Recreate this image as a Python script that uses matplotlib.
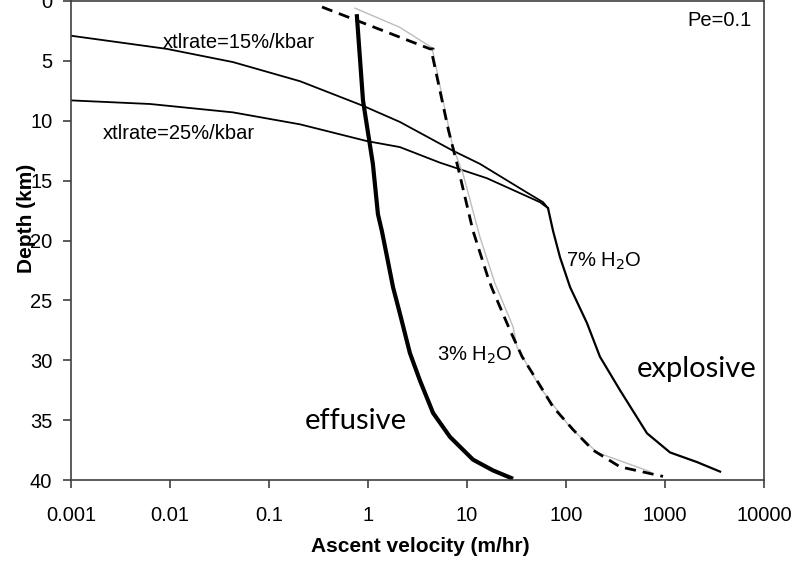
import matplotlib
matplotlib.use("Agg")
import matplotlib.pyplot as plt

# ---- data ----
effusive_v = [0.77, 0.89, 1.0, 1.12, 1.26, 1.38, 1.56, 1.79, 2.10, 2.65, 3.35, 4.54, 6.73, 11.5, 18.3, 29.2]
effusive_d = [1.1, 8.3, 11.0, 13.6, 17.8, 19.2, 21.4, 23.9, 26.1, 29.4, 31.7, 34.4, 36.4, 38.3, 39.2, 39.9]

dash3_v = [0.343, 4.23, 4.55, 4.43, 6.5, 8.11, 11.5, 16.3, 17.9, 27.2, 36.0, 51.0, 74.0, 118.0, 187.0, 351.0, 955.0]
dash3_d = [0.5, 4.0, 4.0, 4.4, 10.8, 13.9, 19.2, 23.1, 24.0, 27.5, 29.7, 31.7, 33.9, 35.8, 37.5, 38.9, 39.7]

grey3_v = [0.74, 2.10, 4.43, 7.2, 9.1, 13.5, 19.2, 29.2, 32.0, 55.0, 110.0, 206.0, 705.0]
grey3_d = [0.6, 2.2, 3.9, 12.2, 14.4, 19.7, 23.6, 27.2, 28.9, 32.3, 35.6, 37.7, 39.3]

h2o7_v = [65.8, 74.0, 87.0, 110.0, 163.0, 220.0, 351.0, 658.0, 1125.0, 2100.0, 3600.0]
h2o7_d = [17.3, 19.2, 21.4, 23.9, 26.9, 29.7, 32.5, 36.1, 37.7, 38.5, 39.3]

x15_v = [0.001, 0.0093, 0.0432, 0.206, 0.89, 2.10, 7.2, 13.5, 40.4, 58.6, 65.8]
x15_d = [2.9, 4.0, 5.1, 6.7, 8.75, 10.1, 12.5, 13.6, 16.0, 16.8, 17.3]

x25_v = [0.001, 0.00628, 0.0432, 0.206, 0.977, 2.10, 5.33, 15.9, 54.6, 65.8]
x25_d = [8.3, 8.6, 9.3, 10.3, 11.7, 12.2, 13.5, 14.8, 16.8, 17.3]

xticks = [0.001, 0.01, 0.1, 1, 10, 100, 1000, 10000]
xticklabels = ["0.001", "0.01", "0.1", "1", "10", "100", "1000", "10000"]
yticks = [0, 5, 10, 15, 20, 25, 30, 35, 40]

# ---- figure ----
plt.rcParams['font.family'] = ['Liberation Sans', 'DejaVu Sans']
fig = plt.figure(figsize=(8.07, 5.62), dpi=100)
ax = fig.add_axes([71/807, 1-480/562, (764-71)/807, (480-1)/562])

ax.plot(x15_v, x15_d, color='black', lw=1.3)
ax.plot(x25_v, x25_d, color='black', lw=1.3)
ax.plot(grey3_v, grey3_d, color='#bdbdbd', lw=1.0)
ax.plot(dash3_v, dash3_d, color='black', lw=2.0, ls=(0, (4, 2.5)))
ax.plot(h2o7_v, h2o7_d, color='black', lw=1.6)
ax.plot(effusive_v, effusive_d, color='black', lw=3.0, solid_capstyle='butt')

ax.set_xscale('log')
ax.set_xlim(0.001, 10000)
ax.set_ylim(40, 0)
ax.set_xticks(xticks)
ax.set_xticklabels(xticklabels)
ax.minorticks_off()
ax.set_yticks(yticks)

spine_c = '#404040'
for s in ax.spines.values():
    s.set_color(spine_c)
    s.set_linewidth(1.2)
ax.tick_params(axis='both', direction='out', length=5.5, width=1.2, color=spine_c,
               labelsize=14.5, labelcolor='black')
ax.tick_params(axis='x', pad=13)
ax.tick_params(axis='y', pad=8)

ax.set_xlabel('Ascent velocity (m/hr)', fontsize=15, fontweight='bold')
ax.set_ylabel('Depth (km)', fontsize=15, fontweight='bold')
ax.xaxis.set_label_coords((420-71)/693, -(537-480)/479)
ax.yaxis.set_label_coords((36-71)/693, 1-(218-1)/479)

fs = 14.5
ax.text(0.0085, 3.5, 'xtlrate=15%/kbar', fontsize=fs, va='center', ha='left')
ax.text(0.0021, 11.1, 'xtlrate=25%/kbar', fontsize=fs, va='center', ha='left')
ax.text((752-71)/693, 1-20/479, 'Pe=0.1', fontsize=fs, va='center', ha='right', transform=ax.transAxes)
ax.text(100, 21.7, '7% H$_2$O', fontsize=fs, va='center', ha='left')
ax.text(5.0, 29.6, '3% H$_2$O', fontsize=fs, va='center', ha='left')
ax.text(0.23, 35.1, 'effusive', fontsize=21, va='center', ha='left', family=['Lato', 'DejaVu Sans'])
ax.text(521, 30.7, 'explosive', fontsize=21, va='center', ha='left', family=['Lato', 'DejaVu Sans'])

fig.savefig('out.png', dpi=100)
